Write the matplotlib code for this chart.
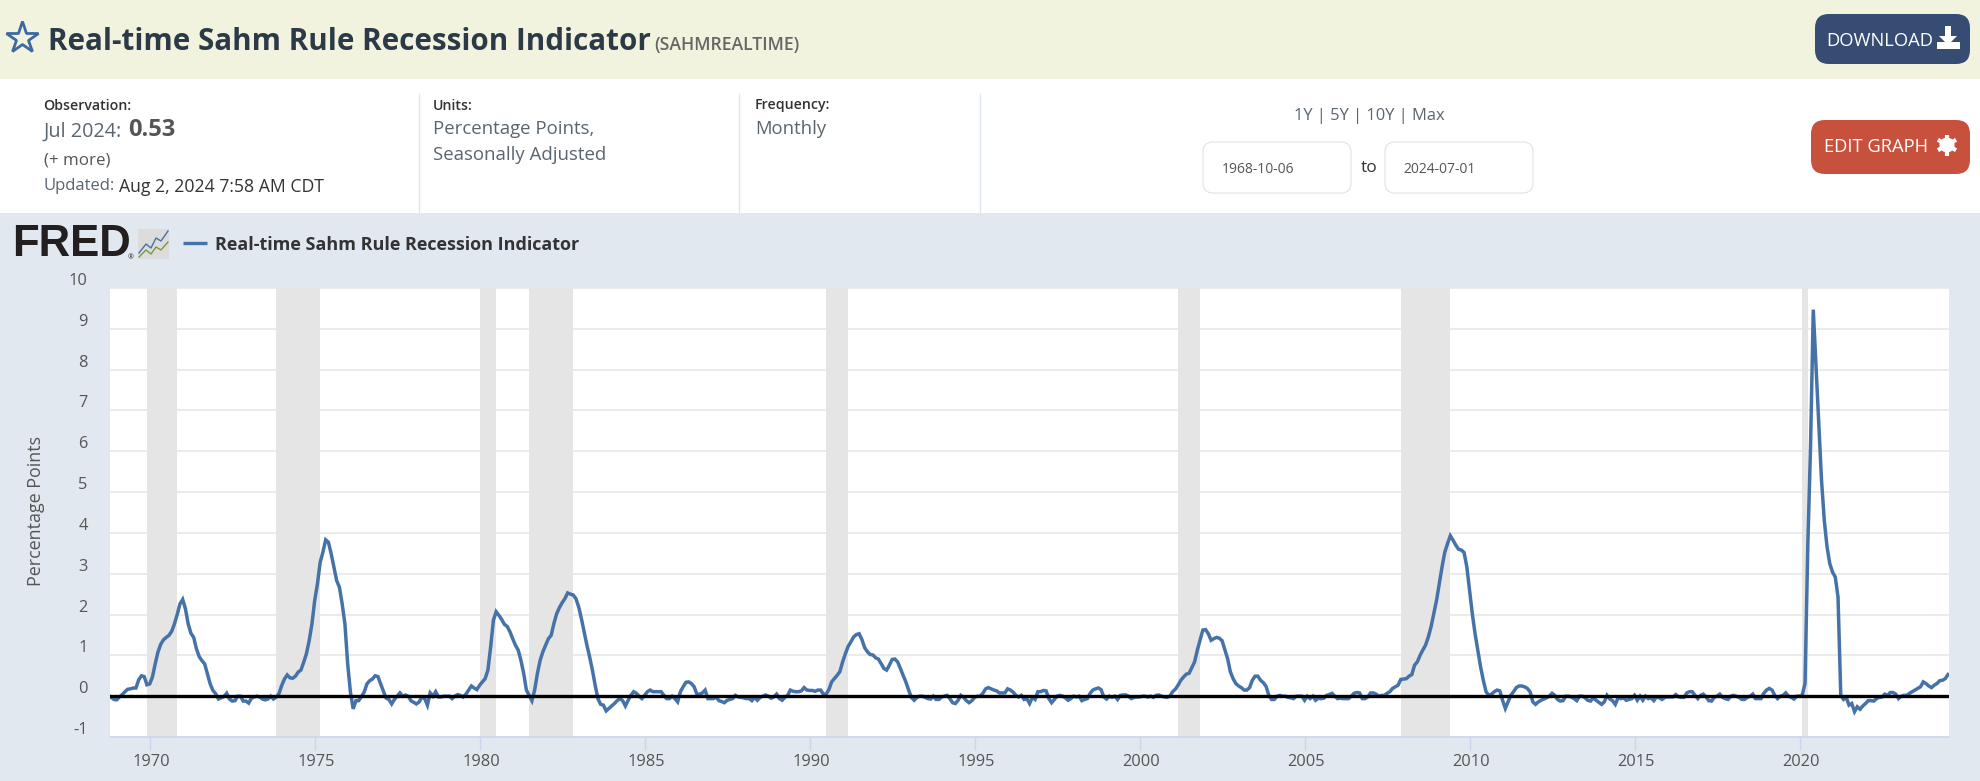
import numpy as np
import matplotlib
matplotlib.use("Agg")
import matplotlib.pyplot as plt
from matplotlib.patches import FancyBboxPatch, Rectangle, Polygon, Circle
from matplotlib.transforms import ScaledTranslation

plt.rcParams['font.family'] = ['Open Sans', 'DejaVu Sans']

START_YEAR = 1968
START_MONTH = 10  # October

sahm_1960s = [
    0.02, -0.03, -0.08,
    -0.09, -0.02, 0.04, 0.11, 0.17, 0.18, 0.2, 0.2, 0.4, 0.5, 0.48, 0.28,
]
sahm_1970s = [
    0.3, 0.47, 0.79, 1.08, 1.27, 1.38, 1.44, 1.49, 1.59, 1.77, 2.0, 2.26,
    2.37, 2.14, 1.77, 1.54, 1.44, 1.16, 0.97, 0.87, 0.79, 0.55, 0.3, 0.14,
    0.06, -0.07, -0.04, -0.01, 0.07, -0.07, -0.12, -0.11, 0.0, 0.0, -0.12, -0.12,
    -0.17, -0.05, -0.02, 0.0, -0.02, -0.07, -0.09, -0.07, 0.0, -0.07, -0.02, 0.06,
    0.26, 0.42, 0.52, 0.45, 0.44, 0.49, 0.59, 0.64, 0.83, 1.04, 1.36, 1.77,
    2.34, 2.75, 3.28, 3.53, 3.83, 3.77, 3.49, 3.16, 2.83, 2.67, 2.26, 1.77,
    0.79, 0.1, -0.31, -0.11, -0.11, -0.01, 0.1, 0.3, 0.38, 0.42, 0.5, 0.48,
    0.3, 0.12, -0.05, -0.08, -0.19, -0.08, 0.0, 0.08, 0.0, 0.03, 0.0, -0.11,
    -0.15, -0.19, -0.14, -0.02, -0.06, -0.22, 0.08, 0.0, 0.11, -0.02, -0.02, 0.0,
    0.0, 0.0, -0.06, 0.0, 0.04, 0.02, -0.02, 0.05, 0.15, 0.25, 0.2, 0.16,
]
sahm_1980s = [
    0.27, 0.35, 0.43, 0.64, 1.21, 1.86, 2.07, 1.98, 1.88, 1.76, 1.71, 1.58,
    1.41, 1.25, 1.13, 0.88, 0.56, 0.15, 0.02, -0.11, 0.15, 0.56, 0.88, 1.09,
    1.25, 1.41, 1.49, 1.78, 2.02, 2.17, 2.29, 2.39, 2.53, 2.5, 2.48, 2.39,
    2.19, 1.9, 1.58, 1.25, 0.96, 0.64, 0.27, -0.06, -0.2, -0.22, -0.36, -0.3,
    -0.24, -0.18, -0.11, -0.06, -0.11, -0.24, -0.1, 0.02, 0.11, 0.07, 0.0, -0.06,
    0.02, 0.11, 0.15, 0.11, 0.11, 0.11, 0.11, 0.02, -0.06, -0.06, 0.0, -0.06,
    -0.14, 0.11, 0.23, 0.34, 0.35, 0.31, 0.23, 0.05, 0.05, 0.08, 0.15, -0.06,
    -0.06, -0.06, -0.02, -0.11, -0.13, -0.16, -0.1, -0.08, -0.06, 0.02, -0.02, -0.03,
    -0.04, -0.06, -0.06, -0.11, -0.03, -0.1, -0.03, 0.0, 0.03, 0.0, -0.05, -0.02,
    0.05, -0.06, -0.1, -0.03, 0.02, 0.15, 0.12, 0.11, 0.11, 0.13, 0.21, 0.15,
]
sahm_1990s = [
    0.14, 0.14, 0.12, 0.15, 0.15, 0.05, 0.05, 0.16, 0.35, 0.43, 0.51, 0.6,
    0.84, 1.04, 1.22, 1.33, 1.45, 1.51, 1.53, 1.39, 1.19, 1.09, 1.02, 1.01,
    0.94, 0.91, 0.8, 0.68, 0.64, 0.76, 0.9, 0.91, 0.84, 0.68, 0.51, 0.35,
    0.15, -0.03, -0.1, -0.03, 0.0, 0.0, -0.03, -0.06, -0.07, 0.0, -0.08, -0.08,
    -0.02, 0.0, 0.02, -0.06, -0.16, -0.18, -0.1, 0.02, -0.03, -0.11, -0.16, -0.11,
    -0.03, 0.0, 0.0, 0.07, 0.18, 0.21, 0.18, 0.15, 0.13, 0.08, 0.08, 0.08,
    0.18, 0.15, 0.1, 0.02, -0.02, 0.02, -0.08, -0.06, -0.18, -0.03, -0.08, 0.11,
    0.11, 0.14, 0.13, -0.06, -0.16, -0.08, 0.0, 0.02, 0.0, -0.04, -0.1, -0.06,
    0.0, -0.02, 0.0, -0.11, -0.08, -0.06, 0.07, 0.15, 0.18, 0.2, 0.16, -0.02,
    -0.07, 0.0, -0.03, 0.0, -0.08, 0.02, 0.03, 0.03, 0.0, -0.06, -0.03, -0.02,
]
sahm_2000s = [
    -0.02, 0.0, 0.0, -0.02, 0.0, -0.03, 0.02, 0.03, 0.0, -0.02, -0.03, 0.0,
    0.11, 0.17, 0.27, 0.39, 0.47, 0.54, 0.56, 0.7, 0.84, 1.13, 1.37, 1.62,
    1.63, 1.53, 1.37, 1.41, 1.44, 1.42, 1.36, 1.14, 0.92, 0.6, 0.43, 0.31,
    0.25, 0.21, 0.15, 0.15, 0.21, 0.39, 0.49, 0.49, 0.39, 0.33, 0.24, 0.02,
    -0.08, -0.08, 0.0, 0.02, 0.0, 0.0, -0.03, -0.04, -0.06, 0.0, 0.0, 0.0,
    -0.1, 0.0, -0.06, 0.0, -0.1, -0.05, -0.06, -0.05, 0.02, 0.04, 0.07, 0.0,
    -0.06, -0.05, -0.06, -0.06, -0.06, 0.0, 0.07, 0.09, 0.08, -0.06, -0.06, -0.02,
    0.08, 0.08, 0.05, 0.0, 0.02, 0.02, 0.07, 0.11, 0.19, 0.23, 0.27, 0.41,
    0.42, 0.43, 0.49, 0.53, 0.76, 0.84, 1.0, 1.13, 1.25, 1.45, 1.7, 2.02,
    2.35, 2.76, 3.17, 3.53, 3.74, 3.93, 3.82, 3.7, 3.6, 3.58, 3.52, 3.17,
]
sahm_2010s = [
    2.6, 2.02, 1.53, 1.13, 0.72, 0.39, 0.11, 0.02, 0.05, 0.11, 0.15, 0.13,
    -0.1, -0.3, -0.14, 0.02, 0.11, 0.21, 0.25, 0.25, 0.23, 0.19, 0.11, -0.14,
    -0.2, -0.14, -0.1, -0.07, -0.04, 0.0, 0.07, 0.02, -0.08, -0.12, -0.11, 0.0,
    0.0, -0.02, -0.06, -0.11, 0.0, 0.0, -0.04, -0.1, -0.12, -0.04, -0.1, -0.15,
    -0.2, -0.14, 0.02, -0.07, -0.11, -0.2, -0.04, -0.06, -0.04, -0.1, -0.08, -0.06,
    0.02, -0.1, 0.0, -0.1, 0.0, -0.06, -0.04, -0.11, -0.02, -0.04, -0.08, -0.03,
    -0.02, -0.02, -0.02, 0.04, -0.02, -0.03, -0.03, 0.08, 0.11, 0.11, 0.02, -0.06,
    0.02, 0.05, -0.02, -0.11, -0.12, -0.03, 0.0, 0.05, -0.03, -0.06, -0.08, 0.0,
    0.02, 0.0, -0.03, -0.08, -0.08, -0.03, 0.0, 0.05, -0.06, -0.06, -0.06, 0.07,
    0.15, 0.19, 0.15, 0.02, -0.06, 0.0, 0.02, 0.08, 0.0, -0.03, -0.07, 0.0,
]
sahm_2020s = [
    0.0, 0.03, 0.31, 3.66, 6.11, 9.47, 8.07, 6.68, 5.29, 4.31, 3.66, 3.25,
    3.04, 2.92, 2.43, 0.02, -0.08, -0.03, -0.22, -0.18, -0.38, -0.26, -0.32, -0.24,
    -0.18, -0.11, -0.11, -0.12, -0.06, -0.03, -0.02, 0.05, 0.02, 0.09, 0.09, 0.05,
    -0.06, 0.0, 0.02, 0.02, 0.07, 0.11, 0.15, 0.19, 0.23, 0.35, 0.31, 0.25,
    0.21, 0.27, 0.31, 0.38, 0.39, 0.43, 0.53,
]
sahm = sahm_1960s + sahm_1970s + sahm_1980s + sahm_1990s + sahm_2000s + sahm_2010s + sahm_2020s
assert len(sahm) == 3 + 12 * 55 + 7, len(sahm)

recession_start = [1969.917, 1973.833, 1980.0, 1981.5, 1990.5, 2001.167, 2007.917, 2020.083]
recession_end = [1970.833, 1975.167, 1980.5, 1982.833, 1991.167, 2001.833, 2009.417, 2020.25]
year_ticks = [1970, 1975, 1980, 1985, 1990, 1995, 2000, 2005, 2010, 2015, 2020]
value_ticks = [-1, 0, 1, 2, 3, 4, 5, 6, 7, 8, 9, 10]
value_labels = ['-1', '0', '1', '2', '3', '4', '5', '6', '7', '8', '9', '10']

W, H = 1980, 781
fig = plt.figure(figsize=(W / 100, H / 100), dpi=100, facecolor='white')

# ---- page chrome, drawn in pixel coordinates -------------------------------
ui = fig.add_axes([0, 0, 1, 1], zorder=0)
ui.set_xlim(0, W)
ui.set_ylim(H, 0)
ui.axis('off')

ui.add_patch(Rectangle((0, 0), W, 79, fc='#f2f3de', ec='none'))
ui.add_patch(Rectangle((0, 213), W, H - 213, fc='#e1e8ef', ec='none'))


def T(x, y, s, size=11, color='#555555', weight='normal', ha='left', va='center', **kw):
    return ui.text(x, y + 1.5, s, fontsize=size, color=color, fontweight=weight, ha=ha, va=va, **kw)


# star + title
ui.plot([22], [38], marker='*', ms=24, mfc='none', mec='#3c68a3', mew=2, ls='none')
T(48, 40, 'Real-time Sahm Rule Recession Indicator', size=21.3, color='#2c3a47', weight='bold')
T(654, 43.5, '(SAHMREALTIME)', size=12.7, color='#666666', weight='semibold')

# info row
T(43.5, 104, 'Observation:', size=10.2, color='#333333', weight='semibold')
T(43.5, 130, 'Jul 2024:', size=14.2, color='#5a6570')
T(128, 129, '0.53', size=17, color='#555555', weight='bold')
T(43.5, 159, '(+ more)', size=12.2, color='#555555')
T(43.5, 185, 'Updated:', size=12, color='#5a6570')
T(119, 185, 'Aug 2, 2024 7:58 AM CDT', size=12.7, color='#333333')
T(433, 104, 'Units:', size=10.2, color='#333333', weight='semibold')
T(433, 128, 'Percentage Points,', size=13.4, color='#5a6570')
T(433, 154, 'Seasonally Adjusted', size=13.4, color='#5a6570')
T(755, 104, 'Frequency:', size=10.2, color='#333333', weight='semibold')
T(755, 128, 'Monthly', size=13.3, color='#5a6570')
for sx in (418.5, 739, 980):
    ui.plot([sx, sx], [94, 213], color='#dde6ee', lw=1)

T(1369, 114, '1Y | 5Y | 10Y | Max', size=11.9, color='#5a6570', ha='center')
for bx in (1203, 1385):
    ui.add_patch(FancyBboxPatch((bx + 8, 150), 132, 35, fc='white', ec='#e2e2ea', lw=0.8,
                                boxstyle='round,pad=8,rounding_size=10'))
T(1222, 168, '1968-10-06', size=10, color='#555555')
T(1403.5, 168, '2024-07-01', size=10, color='#555555')
T(1369, 167, 'to', size=12.5, color='#333333', ha='center')

# buttons
ui.add_patch(FancyBboxPatch((1827, 26), 131, 26, fc='#364c72', ec='none',
                            boxstyle='round,pad=12,rounding_size=14'))
T(1826, 39, 'DOWNLOAD', size=13.2, color='white')
ui.add_patch(Polygon([(1945, 26), (1951, 26), (1951, 36), (1957, 36), (1948, 45), (1939, 36), (1945, 36)],
                     fc='white', ec='none'))
ui.add_patch(Rectangle((1937, 42), 23, 7, fc='white', ec='none'))
ui.add_patch(FancyBboxPatch((1823, 132), 135, 30, fc='#c7513c', ec='none',
                            boxstyle='round,pad=12,rounding_size=14'))
T(1824, 146, 'EDIT GRAPH', size=13.2, color='white')
ui.add_patch(Circle((1947, 145), 7.5, fc='white', ec='none'))
for a in np.arange(0, 2 * np.pi, np.pi / 3):
    ui.plot([1947, 1947 + 10.5 * np.cos(a + np.pi / 2)], [145, 145 + 10.5 * np.sin(a + np.pi / 2)],
            color='white', lw=3, solid_capstyle='butt')
ui.add_patch(Circle((1947, 145), 3.4, fc='#c7513c', ec='none'))

# FRED logo and legend
ui.text(12, 245, 'FRED', fontsize=31.5, family='Liberation Sans', fontweight='bold', color='#231f20',
        ha='left', va='center')
ui.text(131, 258, '®', fontsize=5, color='#231f20', ha='center', va='center')
ui.add_patch(Rectangle((138, 229), 31, 30, fc='#dcdcdc', ec='none'))
ui.plot([139, 146, 151, 156, 161, 168], [253, 244, 248, 238, 241, 231], color='#4572a7', lw=1)
ui.plot([139, 146, 151, 156, 161, 168], [257, 250, 254, 247, 250, 242], color='#7a9a3c', lw=1)
ui.plot([183, 207], [243, 243], color='#4572a7', lw=2.4, solid_capstyle='butt')
T(215, 243, 'Real-time Sahm Rule Recession Indicator', size=13, color='#333333', weight='bold')

# ---- chart ------------------------------------------------------------------
ax = fig.add_axes([110 / W, 1 - 737 / H, (1949 - 110) / W, (737 - 288) / H], zorder=1)
ax.set_facecolor('white')
t = START_YEAR + (START_MONTH - 1) / 12 + np.arange(len(sahm)) / 12
ax.set_xlim(1968.797, 2024.53)
ax.set_ylim(-1, 10)

ax.set_yticks(value_ticks)
ax.set_yticklabels(value_labels)
ax.set_xticks(year_ticks)
ax.grid(axis='y', color='#e6e6e6', lw=1.1, zorder=1)
ax.set_axisbelow(True)
for s0, s1 in zip(recession_start, recession_end):
    ax.axvspan(s0, s1, fc='#e5e5e5', ec='none', zorder=1.5)
ax.plot(t, sahm, color='#4572a7', lw=2.5, zorder=3, solid_joinstyle='miter')
ax.axhline(0, color='black', lw=2.4, zorder=4)

for side in ('top', 'right', 'left'):
    ax.spines[side].set_visible(False)
ax.spines['bottom'].set_color('#ccd6eb')
ax.spines['bottom'].set_linewidth(1.1)
ax.tick_params(axis='x', length=9.5, width=1, color='#ccd6eb', labelsize=11.8, labelcolor='#555555', pad=2.5)
ax.tick_params(axis='y', length=0, labelsize=11.8, labelcolor='#555555', pad=16)
shift_up = ScaledTranslation(0, 9 / 100, fig.dpi_scale_trans)
for lab in ax.get_yticklabels():
    lab.set_transform(lab.get_transform() + shift_up)
shift_r = ScaledTranslation(1.5 / 100, 0, fig.dpi_scale_trans)
for lab in ax.get_xticklabels():
    lab.set_transform(lab.get_transform() + shift_r)

T(36, 510, 'Percentage Points', size=12.9, color='#555555', ha='center', rotation=90)

fig.savefig('out.png', dpi=100, facecolor=fig.get_facecolor())
